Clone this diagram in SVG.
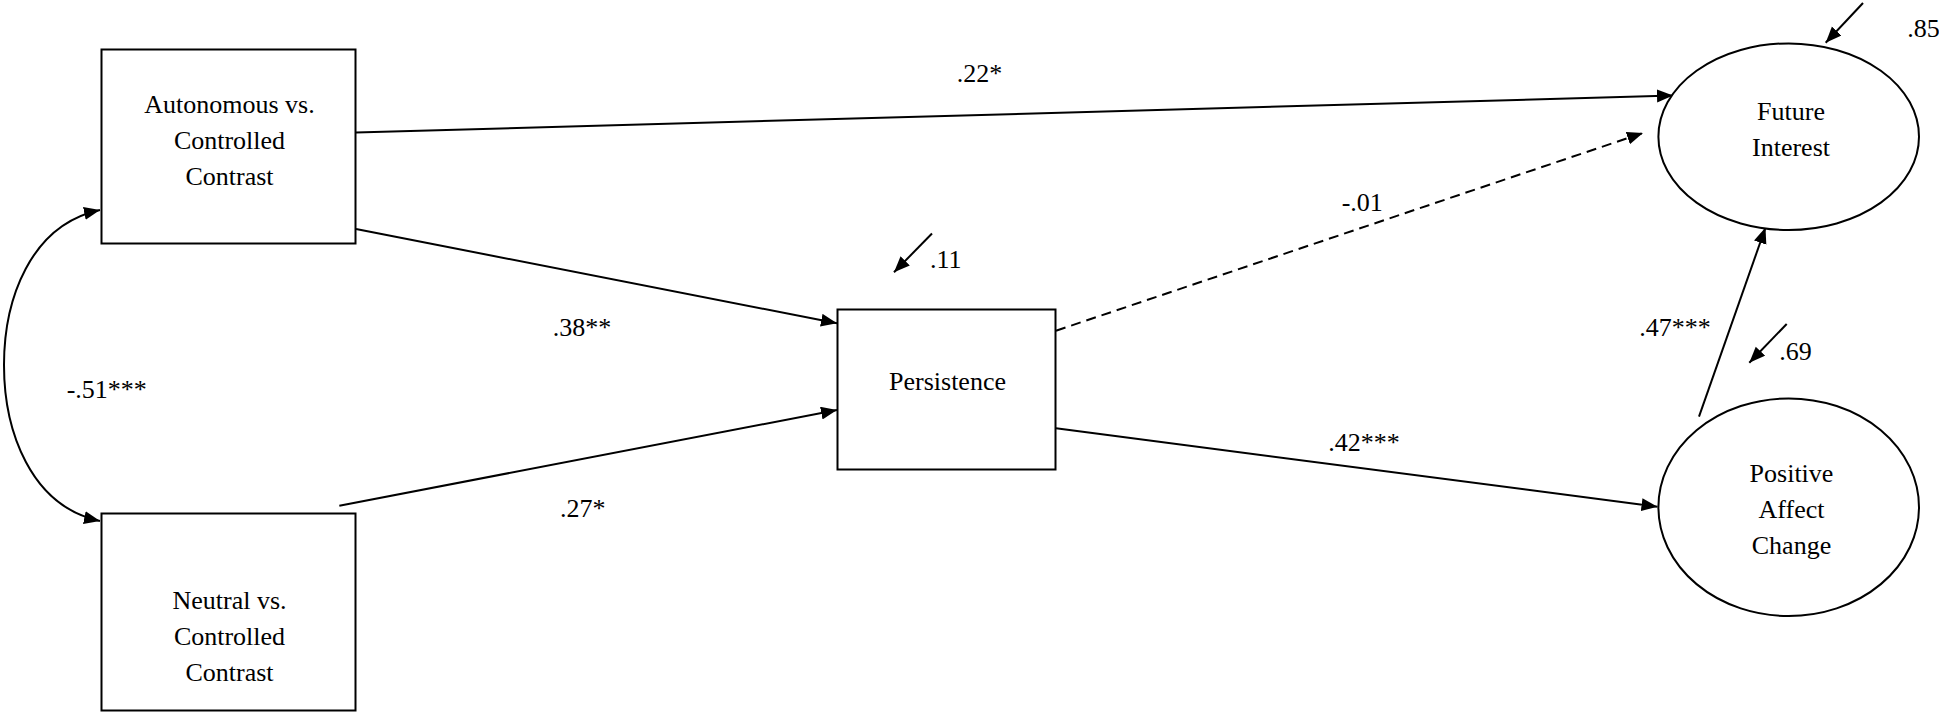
<svg xmlns="http://www.w3.org/2000/svg" width="1939" height="712" viewBox="0 0 1939 712">
<style>
.box{fill:#fff;stroke:#000;stroke-width:2}
.lbl{font-family:"Liberation Serif","Times New Roman",serif;font-size:26px;fill:#000}
.ctr{text-anchor:middle}
.edge{fill:none;stroke:#000;stroke-width:2}
.dash{stroke-dasharray:10,6}
</style>
<defs>
<marker id="arr" markerUnits="userSpaceOnUse" markerWidth="18" markerHeight="14" refX="16" refY="6.5" orient="auto-start-reverse">
<path d="M0,0 L16,6.5 L0,13 z" fill="#000"/>
</marker>
</defs>
<rect width="1939" height="712" fill="#fff"/>
<g id="connectors">
<path class="edge" d="M100,210 C30,225 4,300 4,365 C4,430 30,506 100,521" marker-start="url(#arr)" marker-end="url(#arr)"/>
<line class="edge" x1="356" y1="132.5" x2="1673" y2="95.5" marker-end="url(#arr)"/>
<line class="edge" x1="356" y1="229" x2="837" y2="323.3" marker-end="url(#arr)"/>
<line class="edge" x1="339.3" y1="505.7" x2="837" y2="410" marker-end="url(#arr)"/>
<line class="edge dash" x1="1056" y1="330.7" x2="1643" y2="133" marker-end="url(#arr)"/>
<line class="edge" x1="1056" y1="428.3" x2="1657.5" y2="506.7" marker-end="url(#arr)"/>
<line class="edge" x1="1699" y1="416.7" x2="1765.5" y2="227.5" marker-end="url(#arr)"/>
<line class="edge" x1="932" y1="233.5" x2="894" y2="272.3" marker-end="url(#arr)"/>
<line class="edge" x1="1863" y1="3" x2="1825.7" y2="42.7" marker-end="url(#arr)"/>
<line class="edge" x1="1786.7" y1="324" x2="1749.3" y2="362.7" marker-end="url(#arr)"/>
<text class="lbl" x="956.7" y="81.7">.22*</text>
<text class="lbl" x="552.7" y="336">.38**</text>
<text class="lbl" x="560" y="517.3">.27*</text>
<text class="lbl" x="66.7" y="398.3">-.51***</text>
<text class="lbl" x="1341.7" y="211">-.01</text>
<text class="lbl" x="1328.3" y="450.7">.42***</text>
<text class="lbl" x="1639.3" y="336">.47***</text>
<text class="lbl" x="930" y="268.3">.11</text>
<text class="lbl" x="1907.3" y="36.7">.85</text>
<text class="lbl" x="1779.3" y="360">.69</text>
</g>
<g id="autonomous">
<rect class="box" x="101.5" y="49.5" width="254" height="194"/>
<text class="lbl ctr" x="229.5" y="113.3">Autonomous vs.</text>
<text class="lbl ctr" x="229.5" y="149.3">Controlled</text>
<text class="lbl ctr" x="229.5" y="185.3">Contrast</text>
</g>
<g id="neutral">
<rect class="box" x="101.5" y="513.5" width="254" height="197"/>
<text class="lbl ctr" x="229.5" y="609">Neutral vs.</text>
<text class="lbl ctr" x="229.5" y="645">Controlled</text>
<text class="lbl ctr" x="229.5" y="681">Contrast</text>
</g>
<g id="persistence">
<rect class="box" x="837.5" y="309.5" width="218" height="160"/>
<text class="lbl ctr" x="947.5" y="390">Persistence</text>
</g>
<g id="future-interest">
<ellipse class="box" cx="1788.7" cy="136.7" rx="130.3" ry="93.3"/>
<text class="lbl ctr" x="1791" y="120">Future</text>
<text class="lbl ctr" x="1791" y="156">Interest</text>
</g>
<g id="positive-affect">
<ellipse class="box" cx="1788.7" cy="507.2" rx="130.3" ry="108.8"/>
<text class="lbl ctr" x="1791.5" y="481.7">Positive</text>
<text class="lbl ctr" x="1791.5" y="517.7">Affect</text>
<text class="lbl ctr" x="1791.5" y="553.7">Change</text>
</g>
</svg>
